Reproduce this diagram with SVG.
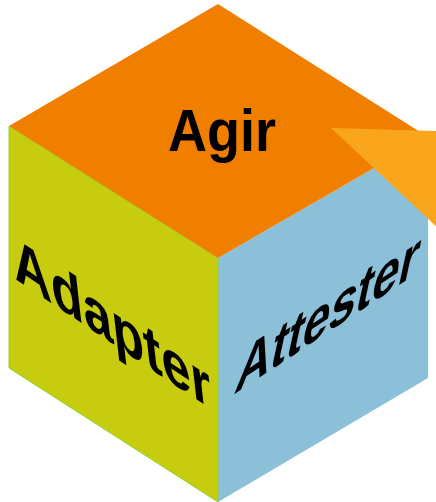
<svg xmlns="http://www.w3.org/2000/svg" width="436" height="502" viewBox="0 0 436 502">
  <style>
    .lbl { font-family: "Liberation Sans", Arial, sans-serif; font-weight: bold; fill: #000000; }
    .top { fill: #F07F00; }
    .left { fill: #C8CC0E; stroke: #86D62E; stroke-width: 1; stroke-linejoin: round; }
    .right { fill: #8CC0D8; }
    .arrow { fill: #F9A61C; }
  </style>
  <rect x="0" y="0" width="436" height="502" fill="#FFFFFF"/>
  <g id="face-right">
    <polygon class="right" points="218,258 428,137 428,378 218,502"/>
    <text class="lbl" font-size="60" transform="matrix(0.8,-0.53,-0.24,1.1,233,395)">Attester</text>
  </g>
  <g id="face-left">
    <polygon class="left" points="9,126 218,258 218,502 9,368"/>
    <text class="lbl" font-size="61" transform="matrix(0.86,0.57,0.12,1.06,15,279)">Adapter</text>
  </g>
  <g id="face-top">
    <polygon class="top" points="218,4 428,137 218,258 9,126"/>
    <text class="lbl" font-size="60" text-anchor="middle" transform="translate(222,151) scale(0.9,1)">Agir</text>
  </g>
  <g id="connectors">
    <polygon class="arrow" points="331,128 440,131 440,230"/>
  </g>
</svg>
